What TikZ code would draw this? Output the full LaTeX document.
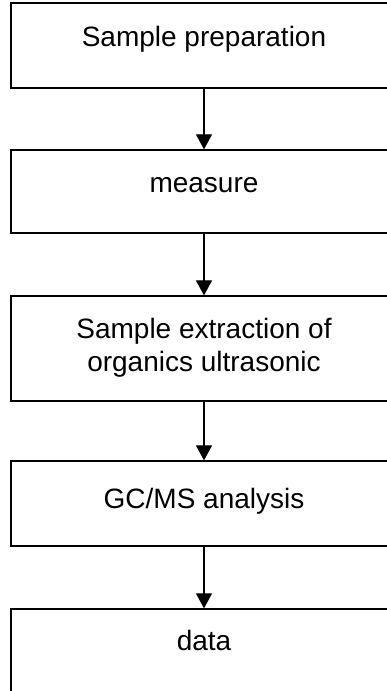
\documentclass[tikz,border=0pt]{standalone}
\usepackage{fontspec}
\setmainfont{Liberation Sans}
\usetikzlibrary{arrows.meta}
\begin{document}
\begin{tikzpicture}[x=1pt,y=-1pt,
  box/.style={draw=black, line width=1.3pt, minimum width=386pt, inner sep=0pt, fill=white},
  lbl/.style={anchor=base, inner sep=0pt, font=\fontsize{28}{32.5}\selectfont, align=center},
  flow/.style={draw=black, line width=1.2pt, -{Triangle[width=16pt,length=15pt]}}]
\useasboundingbox (0,0) rectangle (387,691);
\clip (0,0) rectangle (387,691);
\fill[white] (0,0) rectangle (387,691);
\node[box, minimum height=85pt] (b1) at (204,45.5) {};
\node[box, minimum height=83pt] (b2) at (204,191.5) {};
\node[box, minimum height=105pt] (b3) at (204,348.5) {};
\node[box, minimum height=85pt] (b4) at (204,503.5) {};
\node[box, minimum height=92pt] (b5) at (204,655) {};
\node[lbl] (t1) at (204,46) {Sample preparation};
\node[lbl] (t2) at (204,192) {measure};
\node[lbl] (t3) at (204,371) {Sample extraction of\\organics ultrasonic};
\node[lbl] (t4) at (204,508) {GC/MS analysis};
\node[lbl] (t5) at (204,650) {data};
\draw[flow] (b1.south) -- (b2.north);
\draw[flow] (b2.south) -- (b3.north);
\draw[flow] (b3.south) -- (b4.north);
\draw[flow] (b4.south) -- (b5.north);
\end{tikzpicture}
\end{document}
